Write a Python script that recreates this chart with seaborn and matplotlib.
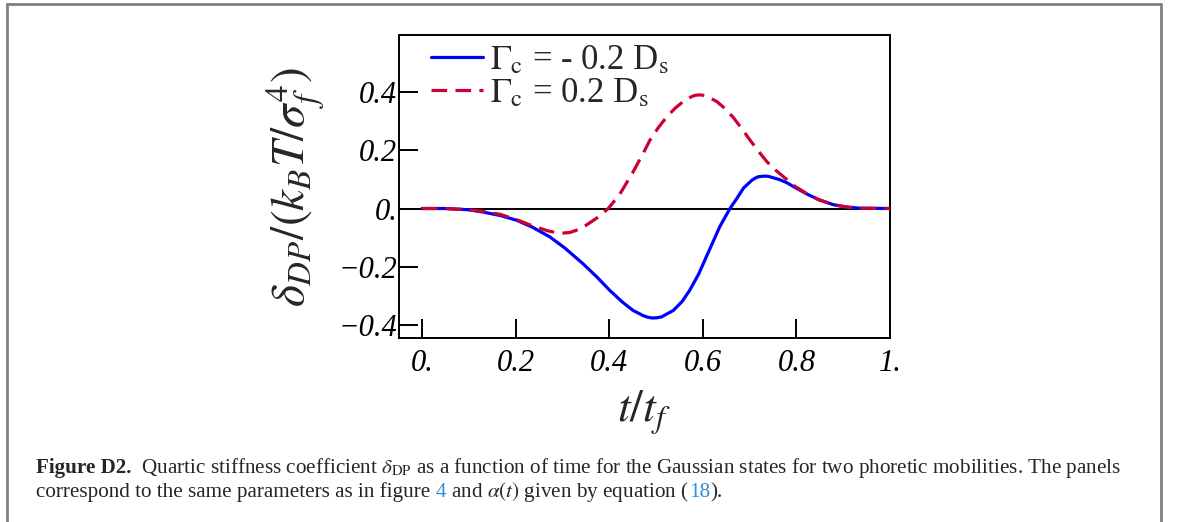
import numpy as np
import pandas as pd
import matplotlib
matplotlib.use("Agg")
import matplotlib.pyplot as plt
import seaborn as sns
from matplotlib.lines import Line2D

# ---------------- data ----------------
t_neg = [0.0, 0.048, 0.098, 0.130, 0.167, 0.202, 0.236, 0.273, 0.305, 0.344, 0.374,
         0.401, 0.428, 0.451, 0.473, 0.482, 0.492, 0.502, 0.512, 0.537, 0.556,
         0.572, 0.591, 0.609, 0.623, 0.636, 0.658, 0.673, 0.687, 0.705, 0.712,
         0.719, 0.726, 0.733, 0.740, 0.749, 0.764, 0.780, 0.798, 0.822, 0.848,
         0.879, 0.907, 0.937, 1.0]
d_neg = [0.0, 0.0, -0.004, -0.012, -0.024, -0.040, -0.064, -0.097, -0.135, -0.189,
         -0.235, -0.280, -0.320, -0.349, -0.367, -0.372, -0.375, -0.374, -0.371,
         -0.349, -0.318, -0.280, -0.225, -0.160, -0.110, -0.063, 0.0, 0.035, 0.070,
         0.097, 0.104, 0.109, 0.110, 0.111, 0.110, 0.106, 0.099, 0.088, 0.071,
         0.050, 0.030, 0.013, 0.005, 0.001, 0.0]

t_pos = [0.0, 0.048, 0.098, 0.130, 0.167, 0.202, 0.237, 0.270, 0.286, 0.302, 0.316,
         0.329, 0.351, 0.374, 0.398, 0.423, 0.451, 0.473, 0.487, 0.505, 0.523,
         0.542, 0.558, 0.576, 0.583, 0.591, 0.600, 0.611, 0.630, 0.647, 0.665,
         0.683, 0.701, 0.719, 0.737, 0.755, 0.773, 0.798, 0.822, 0.848, 0.879,
         0.907, 0.937, 1.0]
d_pos = [0.0, 0.0, -0.004, -0.010, -0.020, -0.038, -0.060, -0.077, -0.082, -0.084,
         -0.082, -0.075, -0.057, -0.032, 0.0, 0.050, 0.125, 0.190, 0.234, 0.277,
         0.314, 0.345, 0.366, 0.383, 0.387, 0.389, 0.388, 0.382, 0.366, 0.343,
         0.312, 0.274, 0.234, 0.196, 0.160, 0.132, 0.108, 0.075, 0.051, 0.030,
         0.013, 0.005, 0.001, 0.0]

labels = [r"$\Gamma_{\rm c}$ = - 0.2 D$_{\rm s}$", r"$\Gamma_{\rm c}$ = 0.2 D$_{\rm s}$"]
xticks = [0.0, 0.2, 0.4, 0.6, 0.8, 1.0]
xticklabels = ["0.", "0.2", "0.4", "0.6", "0.8", "1."]
yticks = [-0.4, -0.2, 0.0, 0.2, 0.4]
yticklabels = ["\u22120.4", "\u22120.2", "0.", "0.2", "0.4"]

# ---------------- style ----------------
sns.set_style("ticks")
plt.rcParams["font.family"] = ["Liberation Serif", "DejaVu Serif"]
plt.rcParams["mathtext.fontset"] = "stix"

W, H = 1179, 522
fig = plt.figure(figsize=(W / 100, H / 100), dpi=100)
fig.patch.set_facecolor("white")

ax = fig.add_axes([398.6 / W, 1 - 338.2 / H, (890 - 398.6) / W, (338.2 - 35) / H])

df_neg = pd.DataFrame({"t": t_neg, "d": d_neg})
df_pos = pd.DataFrame({"t": t_pos, "d": d_pos})

ax.axhline(0, color="black", lw=1.4, zorder=1)
sns.lineplot(data=df_neg, x="t", y="d", ax=ax, color="#0000ff", lw=2.3,
             label=labels[0], zorder=3, sort=False)
sns.lineplot(data=df_pos, x="t", y="d", ax=ax, color="#cc0033", lw=2.3,
             label=labels[1], zorder=4, sort=False)
ax.lines[-1].set_dashes((4.9, 2.6))
for ln in ax.lines:
    ln.set_solid_joinstyle("round")
    ln.set_dash_joinstyle("round")

ax.set_xlim(-0.05, 1.0)
ax.set_ylim(-0.444, 0.594)

ax.set_xticks(xticks)
ax.set_xticklabels(xticklabels)
ax.set_yticks(yticks)
ax.set_yticklabels(yticklabels)
ax.tick_params(direction="in", length=13.5, width=1.4, colors="black",
               top=False, right=False)
for lab in ax.get_xticklabels() + ax.get_yticklabels():
    lab.set_fontstyle("italic")
    lab.set_fontsize(22)
ax.tick_params(axis="y", pad=1)
ax.tick_params(axis="x", pad=8)
for s in ax.spines.values():
    s.set_linewidth(1.4)
    s.set_color("black")
    s.set_visible(True)

ax.set_xlabel(r"$t/t_f$", fontsize=33, labelpad=7)
ax.set_ylabel(r"$\delta_{DP}/(k_B T/\sigma_f^4)$", fontsize=34, labelpad=8)

handles, _ = ax.get_legend_handles_labels()
leg = ax.legend(handles, labels, loc="upper left", bbox_to_anchor=(0.0586, 0.98),
                frameon=False, fontsize=25, handlelength=1.5, handletextpad=0.2,
                labelspacing=0.0, borderaxespad=0.0, borderpad=0.1)

# ---------------- page frame ----------------
gray = "#808080"
fig.add_artist(Line2D([7 / W, 7 / W], [0, 1 - 4 / H], transform=fig.transFigure, color=gray, lw=2))
fig.add_artist(Line2D([7 / W, 1161 / W], [1 - 4 / H, 1 - 4 / H], transform=fig.transFigure, color=gray, lw=2))
fig.add_artist(Line2D([1161 / W, 1161 / W], [0, 1 - 4 / H], transform=fig.transFigure, color=gray, lw=2))

# ---------------- caption ----------------
renderer = fig.canvas.get_renderer()
link = "#2a8fd8"
cap_size = 14.0

def place(segments, x0, ybase, size):
    x = x0
    for txt, kw in segments:
        t = fig.text(x / W, 1 - ybase / H, txt, fontsize=size, va="baseline", ha="left", **kw)
        bb = t.get_window_extent(renderer=renderer)
        x += bb.width
    return x

line1 = [("Figure D2.", {"fontweight": "bold"}),
         (r"  Quartic stiffness coefficient $\delta_{\rm DP}$ as a function of time for the Gaussian states for two phoretic mobilities. The panels", {})]
line2 = [("correspond to the same parameters as in figure\u00a0", {}),
         ("4", {"color": link}),
         ("\u00a0and $\\alpha(t)$ given by equation (", {}),
         ("18", {"color": link}),
         (").", {})]

probe = fig.text(0, 0, "Figure D2.", fontsize=cap_size, fontweight="bold")
probe2 = fig.text(0, 0, line1[1][0], fontsize=cap_size)
wsum = probe.get_window_extent(renderer=renderer).width + probe2.get_window_extent(renderer=renderer).width
probe.remove(); probe2.remove()
cap_size = cap_size * (1125 - 36) / wsum

place(line1, 36, 473, cap_size)
place(line2, 36, 497, cap_size)

fig.savefig("out.png", dpi=100, facecolor="white")
